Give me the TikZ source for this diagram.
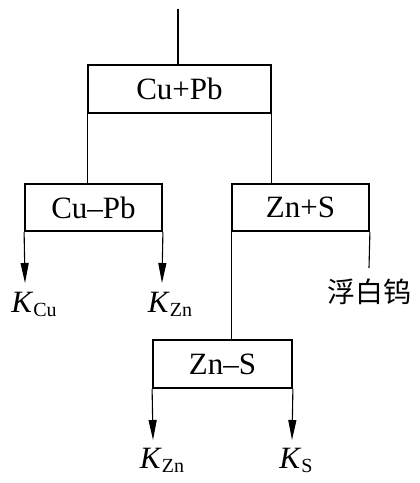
\documentclass[tikz,border=0pt]{standalone}
\usepackage{fontspec}
\setmainfont{Liberation Serif}
\newfontfamily\cjk{Noto Sans CJK SC}
\usetikzlibrary{arrows.meta}
\newcommand{\Ksub}[1]{\textit{K}\raisebox{-4pt}{\fontsize{20}{20}\selectfont #1}}
\tikzset{
  procbox/.style={draw, line width=1.8pt, inner sep=0pt, font=\fontsize{31}{31}\selectfont},
  link/.style={line width=1.1pt},
  flow/.style={line width=1.1pt, -{Triangle[length=20pt,width=8pt]}},
  prod/.style={inner sep=0pt, font=\fontsize{31}{31}\selectfont, anchor=base}
}
\begin{document}
\begin{tikzpicture}[x=1pt,y=-1pt]
\useasboundingbox (0,0) rectangle (420,483);
\node[procbox, minimum width=183pt, minimum height=48pt] (b1) at (179.5,89) {Cu+Pb};
\node[procbox, minimum width=137pt, minimum height=47pt] (b2) at (93.5,207.5) {Cu--Pb};
\node[procbox, minimum width=137pt, minimum height=47pt] (b3) at (300.5,207.5) {Zn+S};
\node[procbox, minimum width=139pt, minimum height=48pt] (b4) at (222.5,364) {Zn--S};
\coordinate (feed) at (178,9);
\coordinate (a1) at (25,283);
\coordinate (a2) at (162,283);
\coordinate (a3) at (369,268);
\coordinate (a4) at (153,440);
\coordinate (a5) at (292,440);
\node[prod] (kcu) at (34,312) {\Ksub{Cu}};
\node[prod] (kzn1) at (170,312) {\Ksub{Zn}};
\node[inner sep=0pt, font=\fontsize{28}{28}\selectfont\cjk] (fbw) at (369,292) {浮白钨};
\node[prod] (kzn2) at (162,468) {\Ksub{Zn}};
\node[prod] (ks) at (296,468) {\Ksub{S}};
\draw[link] (feed) -- (feed |- b1.north);
\draw[link] (b1.south west) -- (b1.south west |- b2.north);
\draw[link] (b1.south east) -- (b1.south east |- b3.north);
\draw[flow] (b2.south west) -- (a1);
\draw[flow] (b2.south east) -- (a2);
\draw[link] (b3.south east) -- (a3);
\draw[link] (b3.south west) -- (b3.south west |- b4.north);
\draw[flow] (b4.south west) -- (a4);
\draw[flow] (b4.south east) -- (a5);
\end{tikzpicture}
\end{document}
